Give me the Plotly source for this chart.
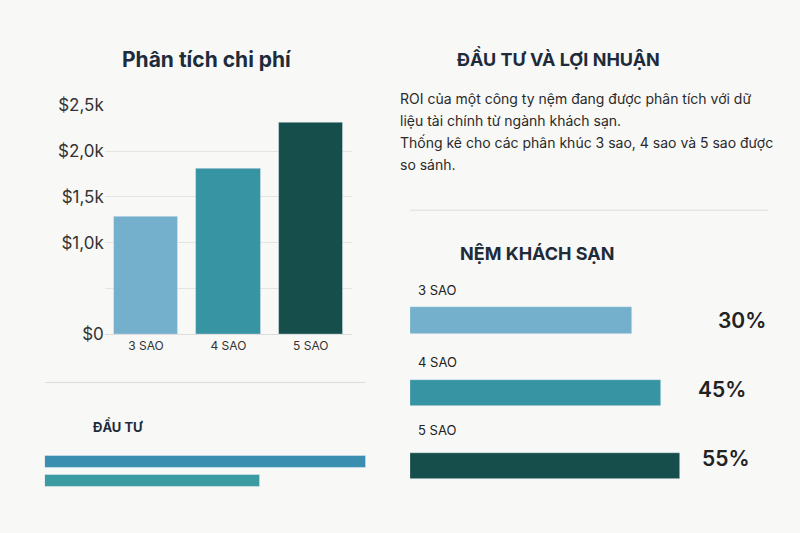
import plotly.graph_objects as go

# bar chart - costs
cost_cats = ["3 SAO", "4 SAO", "5 SAO"]
cost_vals = [1290, 1810, 2310]
cost_ticks = [0, 500, 1000, 1500, 2000, 2500]
cost_tick_text = ["$0", "", "$1,0k", "$1,5k", "$2,0k", "$2,5k"]

# mattress segments
seg_cats = ["3 SAO", "4 SAO", "5 SAO"]
seg_vals = [30, 45, 55]
seg_labels = ["30%", "45%", "55%"]

# investment bars
inv_cats = ["a", "b"]
inv_vals = [100, 67]

colors = ["#74b0cb", "#3794a2", "#154e4b"]
bg = "#f8f8f6"
dark = "#1d2b3a"

fig = go.Figure()

fig.add_trace(go.Bar(x=cost_cats, y=cost_vals, marker_color=colors, width=0.78,
                     xaxis="x", yaxis="y", showlegend=False))

# horizontal bars start at a visual offset so the short bar isn't tiny
fig.add_trace(go.Bar(x=[v + 85 for v in seg_vals], y=seg_cats, base=-85, orientation="h",
                     marker_color=colors, width=0.36, xaxis="x2", yaxis="y2", showlegend=False))

fig.add_trace(go.Bar(x=inv_vals, y=inv_cats, orientation="h",
                     marker_color=["#3a8fb0", "#3c9ba0"], width=0.62,
                     xaxis="x3", yaxis="y3", showlegend=False))

fig.update_layout(
    width=800, height=533, margin=dict(l=0, r=0, t=0, b=0),
    paper_bgcolor=bg, plot_bgcolor=bg,
    font=dict(family="Inter, Roboto, sans-serif", color=dark),
    bargap=0,
    xaxis=dict(domain=[0.131, 0.44], showgrid=False, showline=True, linecolor="#dddddd",
               tickfont=dict(size=12, color="#333"), ticks=""),
    yaxis=dict(domain=[0.368, 0.814], range=[0, 2500], tickvals=cost_ticks, ticktext=cost_tick_text,
               gridcolor="#e4e4e2", tickfont=dict(size=17, color="#333"), zeroline=False),
    # bar starts at px 410, 55% ends at px 680
    xaxis2=dict(domain=[410 / 800, 1.0], anchor="y2",
                range=[-85, -85 + (55 + 85) * (800 - 410) / 270], visible=False),
    yaxis2=dict(domain=[0.040, 0.466], anchor="x2", autorange="reversed", visible=False),
    xaxis3=dict(domain=[0.056, 0.4575], anchor="y3", range=[0, 100], visible=False),
    yaxis3=dict(domain=[0.064, 0.139], anchor="x3", autorange="reversed", visible=False),
)


def note(text, x, y, size, color=dark, xanchor="center", weight="normal"):
    fig.add_annotation(text=text, x=x / 800, y=1 - y / 533, xref="paper", yref="paper",
                       xanchor=xanchor, yanchor="middle", showarrow=False,
                       font=dict(size=size, color=color, weight=weight))


note("<b>Phân tích chi phí</b>", 207, 51, 21)
note("<b>ĐẦU TƯ VÀ LỢI NHUẬN</b>", 558, 50, 18)
note("<b>NỆM KHÁCH SẠN</b>", 537, 253, 18)
note("<b>ĐẦU TƯ</b>", 118, 432, 13)

para = ["ROI của một công ty nệm đang được phân tích với dữ", "liệu tài chính từ ngành khách sạn.",
        "Thống kê cho các phân khúc 3 sao, 4 sao và 5 sao được", "so sánh."]
for i, line in enumerate(para):
    note(line, 398, 92 + i * 23, 14, "#2a2a2a", "left")

label_y = [291, 366, 436]
pct_x = [742, 722, 726]
bar_y = [323, 394, 466]
for i, c in enumerate(seg_cats):
    note(c, 416, label_y[i], 13, "#222", "left")
    note(seg_labels[i], pct_x[i], bar_y[i], 21, "#222", weight=600)

fig.add_shape(type="line", xref="paper", yref="paper", x0=45 / 800, x1=365 / 800,
              y0=1 - 387 / 533, y1=1 - 387 / 533, line=dict(color="#dcdcda", width=1))
fig.add_shape(type="line", xref="paper", yref="paper", x0=410 / 800, x1=768 / 800,
              y0=1 - 208 / 533, y1=1 - 208 / 533, line=dict(color="#dcdcda", width=1))

fig.write_html("out.html", config={"displayModeBar": False})

# drop the default body margin so the 800x533 figure fills the window
with open("out.html", encoding="utf-8") as f:
    html = f.read()
html = html.replace("<body>", '<body style="margin:0;overflow:hidden">', 1)
with open("out.html", "w", encoding="utf-8") as f:
    f.write(html)
